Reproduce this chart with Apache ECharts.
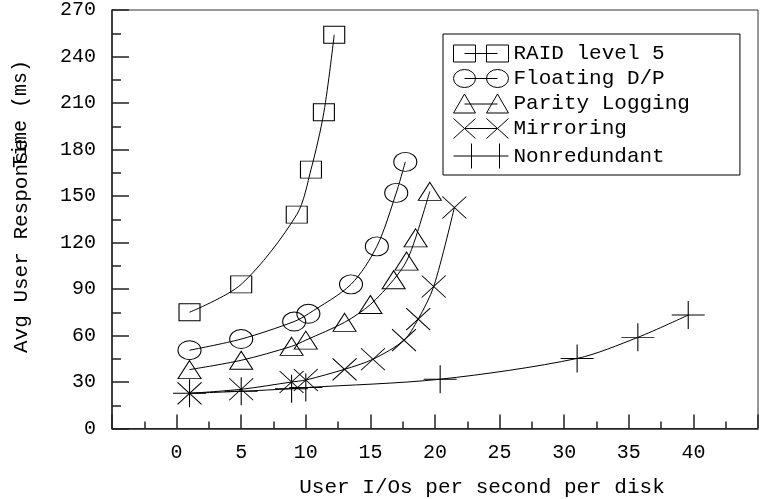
<!DOCTYPE html>
<html lang="en">
<head>
    <meta charset="UTF-8">
    <title>User response time</title>
    <script src="https://cdn.jsdelivr.net/npm/echarts@6/dist/echarts.min.js"></script>
    <style>
        html, body { margin: 0; padding: 0; background: #fff; }
    </style>
</head>
<body>
<div id="main" style="width: 761px;height:499px;"></div>
<script>
    // series names
    var names = ['RAID level 5', 'Floating D/P', 'Parity Logging', 'Mirroring', 'Nonredundant'];

    // x = user I/Os per second per disk, y = avg response time (ms)
    var raidX = [1, 5, 9.3, 10.4, 11.4, 12.2];
    var raidY = [75, 93, 138, 167, 204, 254];
    var floatX = [1, 5, 9.1, 10.2, 13.5, 15.5, 17, 17.7];
    var floatY = [50.5, 57.7, 69, 74, 93, 117.5, 152, 172];
    var parityX = [1, 5, 8.9, 10, 13, 15, 16.8, 17.8, 18.5, 19.6];
    var parityY = [38, 44, 53, 57, 68.5, 80, 96, 108, 123, 153];
    var mirrorX = [1, 5, 8.9, 10, 13, 15.2, 17.6, 18.7, 19.9, 21.5];
    var mirrorY = [22.7, 25.3, 30, 31.3, 38.2, 44.7, 57, 70.6, 91.6, 142.6];
    var nonredX = [1, 5, 8.9, 10, 20.4, 31, 35.7, 39.6];
    var nonredY = [22.7, 24, 25.7, 26.4, 31.8, 45.2, 58.8, 73.2];

    function pairs(xs, ys) {
        var out = [];
        for (var i = 0; i < xs.length; i++) out.push([xs[i], ys[i]]);
        return out;
    }

    var FONT = 'Liberation Mono';

    // marker shapes (hollow)
    var symRect = 'rect';
    var symEllipse = 'path://M0 9A11 9 0 1 1 22 9A11 9 0 1 1 0 9Z';
    var symTri = 'triangle';
    var symCross = 'path://M0 0L24 22M24 0L0 22';
    var symPlus = 'path://M0 14L33 14M16.5 0L16.5 28';

    // legend icons: two markers joined by a line
    var iconRect = 'path://M0 0H22V17H0Z M11 8.5H44 M33 0H55V17H33Z';
    var iconEllipse = 'path://M0 9A11 9 0 1 1 22 9A11 9 0 1 1 0 9Z M11 9H44 M33 9A11 9 0 1 1 55 9A11 9 0 1 1 33 9Z';
    var iconTri = 'path://M11 0L22 19H0Z M11 10H44 M44 0L55 19H33Z';
    var iconCross = 'path://M0 0L22 20M22 0L0 20 M11 10H44 M33 0L55 20M55 0L33 20';
    var iconPlus = 'path://M0 12.5H55 M18 0V25 M46 0V25';

    function mkSeries(name, data, symbol, size) {
        return {
            name: name,
            type: 'line',
            data: data,
            smooth: 0.3,
            symbol: symbol,
            symbolSize: size,
            showAllSymbol: true,
            lineStyle: { color: '#000', width: 1 },
            itemStyle: { color: 'rgba(0,0,0,0)', borderColor: '#000', borderWidth: 1 },
            emphasis: { disabled: true },
            animation: false
        };
    }

    var myChart = echarts.init(document.getElementById('main'));

    var option = {
        backgroundColor: '#fff',
        animation: false,
        grid: {
            left: 112,
            top: 10,
            right: -12,
            bottom: 70.5,
            show: true,
            borderColor: '#333',
            borderWidth: 1
        },
        legend: {
            orient: 'vertical',
            left: 443,
            top: 34,
            padding: [9, 50, 6, 10],
            itemWidth: 55,
            itemHeight: 26,
            itemGap: 4,
            borderColor: '#000',
            borderWidth: 1,
            backgroundColor: '#fff',
            selectedMode: false,
            textStyle: { fontFamily: FONT, fontSize: 21, color: '#000' },
            itemStyle: { color: 'rgba(0,0,0,0)', borderColor: '#000', borderWidth: 1 },
            data: [
                { name: names[0], icon: iconRect },
                { name: names[1], icon: iconEllipse },
                { name: names[2], icon: iconTri },
                { name: names[3], icon: iconCross },
                { name: names[4], icon: iconPlus }
            ]
        },
        xAxis: {
            type: 'value',
            min: -5,
            max: 45,
            interval: 5,
            axisLine: { onZero: false, lineStyle: { color: '#222', width: 1.5 } },
            axisTick: { inside: true, length: 14, lineStyle: { color: '#222', width: 1.5 } },
            minorTick: { show: true, splitNumber: 2, length: 7, lineStyle: { color: '#222', width: 1.5 } },
            splitLine: { show: false },
            axisLabel: {
                margin: 14,
                fontFamily: FONT,
                fontSize: 20,
                color: '#000',
                formatter: function (v) { return (v < 0 || v > 40) ? '' : String(v); }
            }
        },
        yAxis: {
            type: 'value',
            min: 0,
            max: 270,
            interval: 30,
            axisLine: { onZero: false, lineStyle: { color: '#222', width: 1.5 } },
            axisTick: { inside: true, length: 17, lineStyle: { color: '#222', width: 1.5 } },
            minorTick: { show: true, splitNumber: 2, length: 9, lineStyle: { color: '#222', width: 1.5 } },
            splitLine: { show: false },
            axisLabel: { margin: 16, fontFamily: FONT, fontSize: 20, color: '#000' }
        },
        graphic: [
            {
                type: 'text', x: 21, y: 353, rotation: Math.PI / 2,
                style: { text: 'Avg User Response', fontFamily: FONT, fontSize: 21, fill: '#000',
                    align: 'left', verticalAlign: 'middle' }
            },
            {
                type: 'text', x: 21, y: 60, rotation: Math.PI / 2,
                style: { text: 'Time (ms)', fontFamily: FONT, fontSize: 20, fill: '#000',
                    align: 'right', verticalAlign: 'middle' }
            },
            {
                type: 'text', x: 482, y: 487,
                style: { text: 'User I/Os per second per disk', fontFamily: FONT, fontSize: 21, fill: '#000',
                    align: 'center', verticalAlign: 'middle' }
            }
        ],
        series: [
            mkSeries(names[0], pairs(raidX, raidY), symRect, [21, 17]),
            mkSeries(names[1], pairs(floatX, floatY), symEllipse, [23, 19]),
            mkSeries(names[2], pairs(parityX, parityY), symTri, [23, 18]),
            mkSeries(names[3], pairs(mirrorX, mirrorY), symCross, [24, 22]),
            mkSeries(names[4], pairs(nonredX, nonredY), symPlus, [33, 28])
        ]
    };
    myChart.setOption(option);
</script>
</body>
</html>
